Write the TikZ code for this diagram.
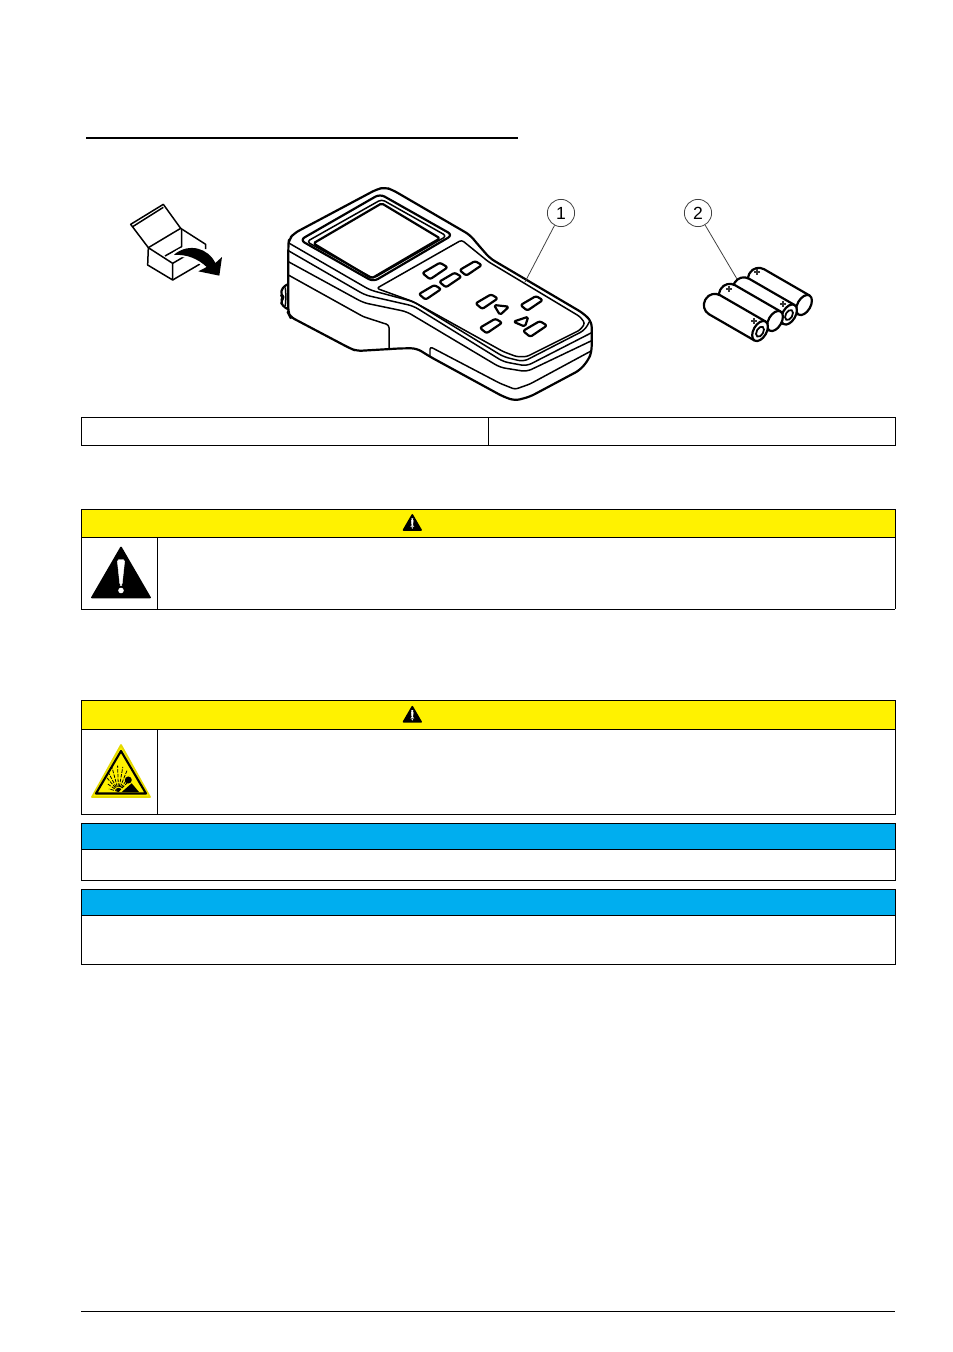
\documentclass[tikz,border=0pt]{standalone}
\usepackage{fontspec}
\setmainfont{Liberation Sans}
\usetikzlibrary{positioning}
\definecolor{cautionyellow}{HTML}{FFF200}
\definecolor{noticeblue}{HTML}{00AEEF}
\tikzset{
    tableline/.style={draw=black, line width=0.55pt},
    devline/.style={draw=black, line width=0.85pt, line join=round, rounded corners=3pt},
    devthick/.style={devline, line width=1.25pt},
    callout/.style={circle, draw=black!75, line width=0.45pt, fill=white, inner sep=0pt, minimum size=15.5pt, font=\fontsize{10}{12}\selectfont},
    leader/.style={draw=black!75, line width=0.45pt},
    keybtn/.style={devthick, fill=white, rounded corners=1.2pt},
    pics/warnsign/.style={code={
        \fill[black, draw=black, line width=1pt, line join=round] (0,-50) -- (-29,0) -- (29,0) -- cycle;
        \fill[white, draw=white, line width=0.25pt, rounded corners=1pt] (-3.8,-38) -- (3.8,-38) -- (1,-12) -- (-1,-12) -- cycle;
        \fill[white] (0,-7) circle[radius=2.8];
    }},
    pics/cellsym/.style={code={
        % one battery lying along its axis
        \draw[devthick, fill=white, rounded corners=6pt] (52,-11) -- (-11,-11) -- (-11,11) -- (52,11);
        \draw[devthick, fill=white] (52,0) ellipse[x radius=6.5, y radius=11];
    }}
}
\begin{document}
\begin{tikzpicture}[x=0.02cm, y=-0.02cm]
    \useasboundingbox[fill=white] (0,0) rectangle (953,1352);

    % Rules
    \draw[line width=0.9pt] (86,138) -- (518,138);
    \draw[line width=0.4pt] (81,1311) -- (895,1311);

    % Box
    \begin{scope}[shift={(110,195)}, scale=1/3, line join=round]
        \draw[devline, rounded corners=0pt] (62,88) -- (160,28) -- (212,100) -- (115,158) -- cycle;
        \draw[devline, rounded corners=0pt] (68,95) -- (160,37);
        \draw[devline, rounded corners=0pt] (115,158) -- (188,205) -- (188,255) -- (113,210) -- cycle;
        \draw[devline, rounded corners=0pt] (212,100) -- (287,148) -- (287,162);
        \draw[devline, rounded corners=0pt] (188,205) -- (265,160);
        \draw[devline, rounded corners=0pt] (188,255) -- (270,207);
        \draw[devline, rounded corners=0pt] (215,102) -- (215,155) -- (165,183);
        \fill[black, preaction={draw=white, line width=2.2pt}] (193,178) .. controls (238,142) and (295,160) .. (316,204) -- (336,186) -- (328,242) -- (265,229) -- (290,216) .. controls (265,192) and (230,177) .. (193,180) -- cycle;
    \end{scope}

    % Meter
    \begin{scope}[shift={(270,180)}, scale=1/3]
        \draw[devthick, fill=white, rounded corners=2pt] (55,312) -- (37,322) -- (32,345) -- (42,352) -- (32,362) -- (37,378) -- (55,388);
        \draw[devline, rounded corners=2pt] (46,322) -- (48,350) -- (46,378);
        \draw[devthick, fill=white] (55,195) -- (57,178) -- (72,160) -- (320,28) -- (345,22) -- (368,30) -- (600,165) -- (625,195) -- (660,235) -- (940,400) -- (965,425) -- (965,515) -- (955,540) -- (930,570) -- (780,650) -- (735,662) -- (700,650) -- (480,530) -- (440,505) -- (395,505) -- (260,513) -- (240,505) -- (60,410) -- (55,400) -- cycle;
        \draw[devline] (58,190) -- (300,330) -- (430,365) -- (700,530) -- (760,545) -- (945,450) -- (958,425);
        \draw[devline] (55,212) -- (285,345) -- (430,378) -- (700,545) -- (770,558) -- (965,458);
        \draw[devline] (55,245) -- (280,368) -- (410,395) -- (690,562) -- (770,575) -- (965,482);
        \draw[devline, rounded corners=1.5pt] (55,285) -- (280,410) -- (357,435) -- (357,510);
        \draw[devline, rounded corners=1.5pt] (480,530) -- (480,500) -- (690,610) -- (735,628) -- (780,612) -- (965,512);
        % Screen
        \draw[devthick] (90,180) -- (330,42) -- (548,165) -- (310,305) -- cycle;
        \draw[devline, rounded corners=2pt] (110,185) -- (335,58) -- (530,168) -- (310,295) -- cycle;
        \draw[devthick, rounded corners=1pt] (130,190) -- (335,70) -- (510,175) -- (305,295) -- cycle;
        % Keypad
        \draw[devline, rounded corners=1.5pt] (320,325) -- (575,180) -- (655,245) -- (930,410) -- (945,430) -- (930,450) -- (770,530) -- (740,530) -- (700,515) -- (430,365) -- cycle;
        \foreach \bx/\by/\bs in {495/273/1, 602/265/0.88, 541/300/0.88, 480/337/0.88, 650/365/0.88, 785/370/0.88, 663/438/0.88, 795/447/0.95} {
            \draw[keybtn] (\bx-38*\bs,\by+6*\bs) -- (\bx+15*\bs,\by-25*\bs) -- (\bx+38*\bs,\by-11*\bs) -- (\bx-15*\bs,\by+25*\bs) -- cycle;
        }
        \draw[devthick, fill=white, rounded corners=1pt] (672,375) -- (717,380) -- (690,405) -- cycle;
        \draw[devthick, fill=white, rounded corners=1pt] (730,425) -- (775,410) -- (765,440) -- cycle;
    \end{scope}

    % Batteries
    \foreach \cx/\cy in {759/279, 744/288.5, 730/295, 715/305} {
        \pic[rotate=-30] at (\cx,\cy) {cellsym};
    }
    \draw[line width=1pt, rotate around={-30:(789,315)}] (789,315) ellipse[x radius=3.3, y radius=5.5];
    \draw[line width=1pt, rotate around={-30:(760,331.7)}] (760,331.7) ellipse[x radius=3.3, y radius=5.5];
    \foreach \px/\py in {757/272, 729/289, 783/304, 754/321} {
        \draw[line width=0.6pt, black!80] (\px-3,\py) -- (\px+3,\py) (\px,\py-3) -- (\px,\py+3);
    }

    % Callouts
    \node[callout] (c1) at (561,213) {1};
    \node[callout] (c2) at (698,213) {2};
    \coordinate (meterpt) at (525,282);
    \coordinate (cellpt) at (737,279);
    \draw[leader] (c1) -- (meterpt);
    \draw[leader] (c2) -- (cellpt);

    % Empty table
    \draw[tableline] (81,417) rectangle (895,445);
    \draw[tableline] (488,417) -- (488,445);

    % First caution
    \draw[tableline, fill=cautionyellow] (81,509.5) rectangle (895,537.3);
    \draw[tableline] (81,537) -- (81,609) (895,537) -- (895,609) (157,537) -- (157,609);
    \draw[line width=1.1pt] (81,609.5) -- (895,609.5);
    \pic[scale=0.3] at (412.3,530) {warnsign};
    \pic at (121,597.5) {warnsign};

    % Second caution
    \draw[tableline, fill=cautionyellow] (81,700.5) rectangle (895,729.3);
    \draw[tableline] (81,729.3) rectangle (895,814);
    \draw[tableline] (157,729) -- (157,814);
    \pic[scale=0.3] at (412.3,721.8) {warnsign};

    % Explosion sign
    \fill[cautionyellow, draw=cautionyellow!90!black, line width=1pt, line join=round] (121,745) -- (92,797) -- (150,797) -- cycle;
    \draw[black, line width=1.2pt, line join=round] (121,751) -- (96,793.5) -- (146,793.5) -- cycle;
    \foreach \ang/\len in {-165/10, -145/14, -130/20, -118/22, -105/25, -92/26, -80/25, -68/23, -55/19, -45/14} {
        \draw[line width=0.45pt, black, dash pattern=on 2pt off 0.7pt] (118.5,791.5) -- ++(\ang:\len);
    }
    \fill[black] (128.3,780) circle[radius=3.5];
    \fill[black] (121.7,792) -- (131.7,783.3) -- (139,792) -- cycle;

    % Notices
    \draw[tableline, fill=noticeblue] (81,823.7) rectangle (895,849);
    \draw[tableline] (81,849) rectangle (895,880);
    \draw[tableline, fill=noticeblue] (81,889.7) rectangle (895,915);
    \draw[tableline] (81,915) rectangle (895,964);
\end{tikzpicture}
\end{document}
